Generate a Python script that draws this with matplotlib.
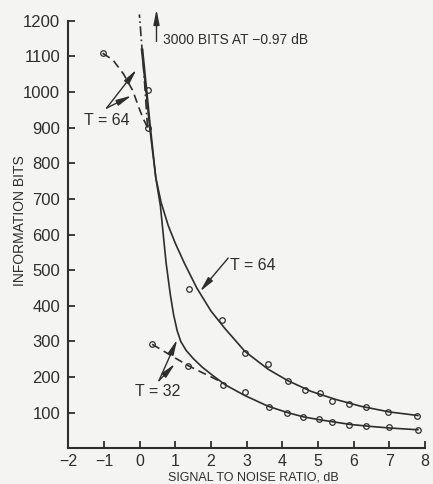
import matplotlib
matplotlib.use("Agg")
import matplotlib.pyplot as plt

plt.rcParams['font.family'] = ['Liberation Sans', 'DejaVu Sans']

ink = '#2e2e2e'
paper = '#f4f4f2'

# solid curves
t64_x = [0.05, 0.18, 0.28, 0.45, 0.60, 0.80, 1.00, 1.25, 1.60, 2.00, 2.40, 2.95, 3.60, 4.15, 4.80, 5.50, 6.20, 7.00, 7.80]
t64_y = [1120, 1000, 900, 760, 690, 625, 575, 520, 450, 385, 335, 272, 222, 190, 160, 137, 118, 102, 92]
t32_x = [0.08, 0.20, 0.30, 0.45, 0.58, 0.66, 0.74, 0.86, 0.95, 1.05, 1.15, 1.30, 1.50, 1.75, 2.00, 2.40, 2.95, 3.60, 4.15, 4.60, 5.05, 5.90, 6.40, 7.00, 7.80]
t32_y = [1120, 1000, 900, 760, 680, 600, 520, 430, 375, 330, 300, 275, 252, 228, 208, 178, 148, 118, 100, 88, 80, 67, 62, 57, 52]

# measured points
p64_x = [0.22, 0.22, 1.37, 2.31, 2.95, 3.60, 4.15, 4.63, 5.05, 5.38, 5.87, 6.34, 6.97, 7.78]
p64_y = [1005, 900, 446, 359, 267, 237, 190, 164, 156, 134, 124, 117, 103, 91]
p32_x = [2.34, 2.95, 3.62, 4.14, 4.57, 5.04, 5.38, 5.87, 6.34, 7.00, 7.81]
p32_y = [178, 157, 117, 100, 87, 81, 73, 65, 63, 59, 51]

# dashed curves
d64_x = [-1.04, -0.75, -0.45, -0.20, 0.00, 0.10, 0.22]
d64_y = [1109, 1090, 1050, 1005, 950, 925, 900]
dd_x = [0.22, 0.12, -0.01]
dd_y = [900, 1050, 1218]
d32_x = [0.35, 0.85, 1.36, 1.70, 2.05, 2.25]
d32_y = [292, 262, 232, 215, 198, 188]

fig = plt.figure(figsize=(4.33, 4.84), dpi=100, facecolor=paper)
ax = fig.add_axes([0.158, 0.0738, 0.8235, 0.8832])
ax.set_facecolor(paper)

ax.plot(t64_x, t64_y, color=ink, lw=1.2)
ax.plot(t32_x, t32_y, color=ink, lw=1.2)
ax.plot(d64_x, d64_y, color=ink, lw=1.2, ls=(0, (5, 3)))
ax.plot(dd_x, dd_y, color=ink, lw=1.2, ls=(0, (6, 2, 1, 2)), clip_on=False)
ax.plot(d32_x, d32_y, color=ink, lw=1.2, ls=(0, (5, 3)))
ax.plot(p64_x, p64_y, 'o', mfc='none', mec=ink, ms=4, mew=0.9)
ax.plot(p32_x, p32_y, 'o', mfc='none', mec=ink, ms=4, mew=0.9)
ax.plot([d64_x[0], d32_x[0], d32_x[2]], [d64_y[0], d32_y[0], d32_y[2]], 'o',
        mfc='none', mec=ink, ms=4, mew=0.9)

arrow = dict(arrowstyle='-|>,head_length=0.9,head_width=0.18', color=ink, lw=1.0,
             shrinkA=0, shrinkB=0)

# T = 64 (upper)
ax.text(-0.92, 921, 'T = 64', fontsize=11.5, color=ink, ha='center', va='center')
ax.annotate('', xy=(-0.09, 1063), xytext=(-0.93, 955), arrowprops=arrow)
ax.annotate('', xy=(-0.23, 990), xytext=(-0.93, 955), arrowprops=arrow)

# T = 32
ax.text(0.50, 159, 'T = 32', fontsize=11.5, color=ink, ha='center', va='center')
ax.annotate('', xy=(1.05, 305), xytext=(0.54, 190), arrowprops=arrow)
ax.annotate('', xy=(0.99, 237), xytext=(0.54, 190), arrowprops=arrow)

# T = 64 (lower)
ax.text(2.53, 514, 'T = 64', fontsize=11.5, color=ink, ha='left', va='center')
ax.annotate('', xy=(1.69, 440), xytext=(2.48, 534), arrowprops=arrow)

# 3000 bits
ax.annotate('', xy=(0.47, 1232), xytext=(0.47, 1142), arrowprops=arrow,
            annotation_clip=False)
ax.text(0.66, 1145, '3000 BITS AT \u22120.97 dB', fontsize=10, color=ink,
        ha='left', va='center')

ax.set_xlim(-2, 8)
ax.set_ylim(0, 1200)
ax.set_xticks(range(-2, 9))
ax.set_xticklabels(['\u22122', '\u22121', '0', '1', '2', '3', '4', '5', '6', '7', '8'])
ax.set_yticks(range(100, 1300, 100))
ax.tick_params(direction='in', length=5, width=1.3, colors=ink, labelsize=12, pad=6)
ax.tick_params(axis='x', pad=4, labelsize=11.5)
for s in ['top', 'right']:
    ax.spines[s].set_visible(False)
for s in ['left', 'bottom']:
    ax.spines[s].set_linewidth(1.5)
    ax.spines[s].set_color(ink)

ax.set_xlabel('SIGNAL TO NOISE RATIO, dB', fontsize=9, color=ink)
ax.xaxis.set_label_coords(0.52, -0.054)
ax.set_ylabel('INFORMATION BITS', fontsize=10, color=ink)
ax.yaxis.set_label_coords(-0.115, 0.532)

fig.savefig('out.png', dpi=100, facecolor=paper)
